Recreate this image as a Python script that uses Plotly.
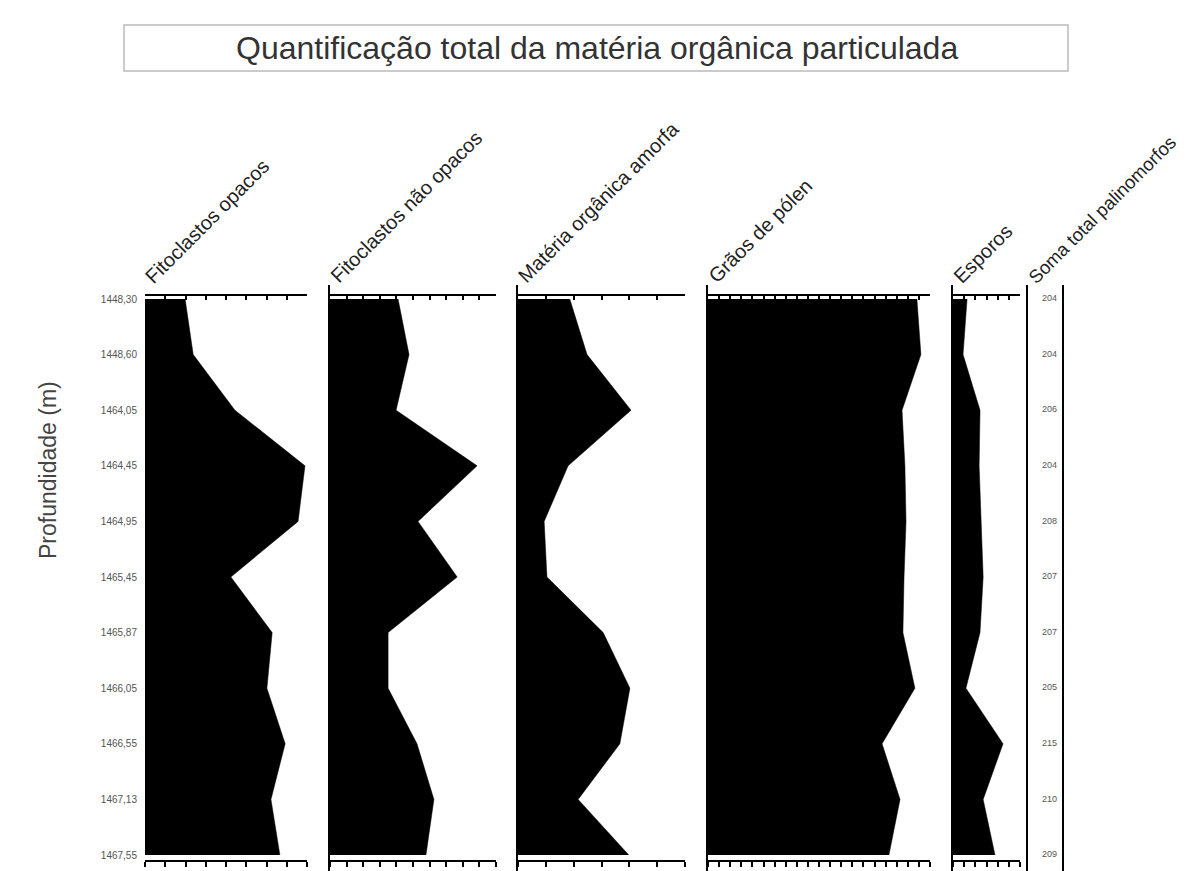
import plotly.graph_objects as go

OFF = 8  # browser body margin
W, H = 1189 - OFF, 871 - OFF

depths = ["1448,30", "1448,60", "1464,05", "1464,45", "1464,95", "1465,45",
          "1465,87", "1466,05", "1466,55", "1467,13", "1467,55"]
fitoclastos_opacos = [9.9, 11.9, 22.2, 39.5, 37.8, 21.2, 31.4, 30.1, 34.6, 31.1, 33.3]
fitoclastos_nao_opacos = [20.5, 23.8, 19.9, 44.3, 26.5, 38.3, 17.5, 17.5, 26.2, 31.3, 28.9]
materia_organica_amorfa = [9.3, 12.4, 20.3, 9.0, 4.7, 5.2, 15.3, 20.1, 18.3, 10.8, 19.9]
graos_de_polen = [94.1, 95.9, 87.4, 88.7, 89.2, 88.3, 87.8, 93.2, 78.4, 86.5, 81.5]
esporos = [6.3, 4.5, 12.1, 11.7, 12.6, 13.5, 12.1, 5.8, 22.4, 13.5, 18.8]
soma_total = [204, 204, 206, 204, 208, 207, 207, 205, 215, 210, 209]

headers = ["Fitoclastos opacos", "Fitoclastos não opacos", "Matéria orgânica amorfa",
           "Grãos de pólen", "Esporos", "Soma total palinomorfos"]
header_sizes = [20, 20, 20, 20, 20, 18.5]
series = [fitoclastos_opacos, fitoclastos_nao_opacos, materia_organica_amorfa,
          graos_de_polen, esporos]
x_max = [40, 50, 30, 100, 30]

# panel pixel extents (left, right) in window pixels
panels_px = [(145, 307), (330, 496), (518, 685), (708, 930), (953, 1020), (1028, 1062)]

def px_x(p):
    return (p - OFF) / W

def px_y(p):
    return 1 - (p - OFF) / H

idx = list(range(len(depths)))
row0, row_step = 299, 55.6
dom_top, dom_bot = 285, 871
y_top = (dom_top - row0) / row_step
y_bot = (dom_bot - row0) / row_step
ydom = [max(0, px_y(dom_bot)), px_y(dom_top)]
top_axis_pos = px_y(295)
bot_axis_pos = px_y(861)

FONT = "Liberation Sans, Arial, sans-serif"

fig = go.Figure()
layout = dict(
    width=W, height=H, margin=dict(l=0, r=0, t=0, b=0),
    paper_bgcolor="white", plot_bgcolor="rgba(0,0,0,0)",
    showlegend=False, font=dict(family=FONT, color="#333"),
)

for i, (vals, xm) in enumerate(zip(series, x_max)):
    n = i + 1
    xa = f"x{n}"
    ya = f"y{n}"
    fig.add_trace(go.Scatter(
        x=vals, y=idx, mode="lines", fill="tozerox",
        fillcolor="black", line=dict(color="black", width=0.5),
        xaxis=xa, yaxis=ya, hoverinfo="skip"))
    fig.add_trace(go.Scatter(
        x=vals, y=idx, mode="lines", line=dict(color="rgba(0,0,0,0)", width=0),
        xaxis=f"x{n+10}", yaxis=ya, hoverinfo="skip"))
    l, r = panels_px[i]
    dom = [px_x(l), px_x(r)]
    common = dict(domain=dom, range=[0, xm], dtick=5, tick0=0, showgrid=False,
                  zeroline=False, showline=True, linecolor="black", linewidth=2,
                  tickcolor="black", tickwidth=2, showticklabels=False)
    layout[f"xaxis{n}"] = dict(common, anchor="free", position=top_axis_pos,
                               side="top", ticks="inside", ticklen=4)
    layout[f"xaxis{n+10}"] = dict(common, anchor="free", position=bot_axis_pos,
                                  side="bottom", ticks="outside", ticklen=5,
                                  overlaying=xa)
    yax = dict(domain=ydom, range=[y_bot, y_top], anchor=xa, showgrid=False,
               zeroline=False, showline=(n != 1), linecolor="black", linewidth=2,
               ticks="", showticklabels=False)
    if n == 1:
        yax.update(showticklabels=True, tickvals=idx, ticktext=depths,
                   tickfont=dict(size=10, color="#555", family=FONT),
                   ticklabelstandoff=7)
    layout[f"yaxis{n}"] = yax

# total palynomorph column
fig.add_trace(go.Scatter(
    x=[0.63] * len(idx), y=idx, mode="text", text=[str(v) for v in soma_total],
    textfont=dict(size=9, color="#555", family=FONT),
    xaxis="x6", yaxis="y6", hoverinfo="skip"))
l, r = panels_px[5]
layout["xaxis6"] = dict(domain=[px_x(l), px_x(r)], range=[0, 1], visible=False, anchor="y6")
layout["yaxis6"] = dict(domain=ydom, range=[y_bot, y_top], anchor="x6", showgrid=False,
                        zeroline=False, showline=True, mirror=True, linecolor="black",
                        linewidth=2, ticks="", showticklabels=False)

annotations = []
for (l, r), txt, fs in zip(panels_px, headers, header_sizes):
    annotations.append(dict(
        text=txt, x=px_x(l - 7), y=px_y(290), xref="paper", yref="paper",
        xanchor="left", yanchor="bottom", textangle=-45, showarrow=False,
        font=dict(size=fs, color="#222", family=FONT)))

annotations.append(dict(
    text="Quantificação total da matéria orgânica particulada",
    x=px_x(597), y=px_y(48), xref="paper", yref="paper",
    xanchor="center", yanchor="middle", showarrow=False,
    font=dict(size=32, color="#333", family=FONT)))
annotations.append(dict(
    text="Profundidade (m)", x=px_x(48), y=px_y(470), xref="paper", yref="paper",
    xanchor="center", yanchor="middle", textangle=-90, showarrow=False,
    font=dict(size=23, color="#444", family=FONT)))
layout["annotations"] = annotations

layout["shapes"] = [dict(type="rect", xref="paper", yref="paper",
                         x0=px_x(124), x1=px_x(1068), y0=px_y(71), y1=px_y(25),
                         line=dict(color="#bbbbbb", width=1.5))]

fig.update_layout(**layout)
fig.write_html("out.html")
